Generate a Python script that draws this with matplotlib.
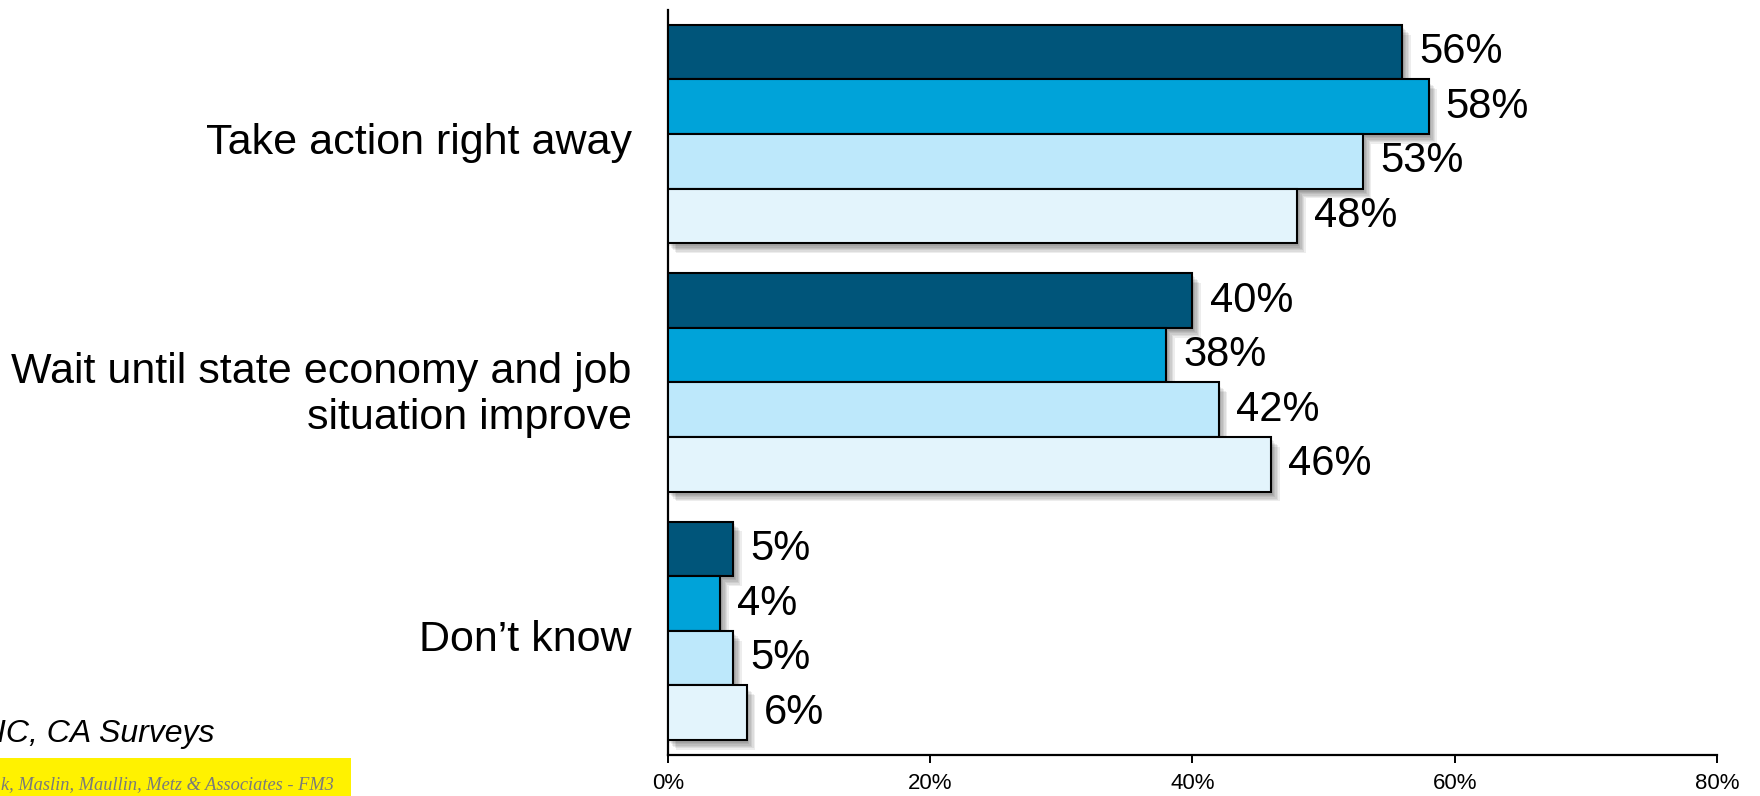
import matplotlib
matplotlib.use("Agg")
from matplotlib import pyplot as plt
import matplotlib.patheffects as pe
import matplotlib.transforms as mtrans
import numpy as np

plt.rcParams['font.family'] = ['Liberation Sans', 'DejaVu Sans']

# Data
categories = ["Take action right away",
              "Wait until state economy and job\nsituation improve",
              "Don\u2019t know"]
wave1 = [56, 40, 5]
wave2 = [58, 38, 4]
wave3 = [53, 42, 5]
wave4 = [48, 46, 6]
series = [wave1, wave2, wave3, wave4]
colors = ["#00557A", "#00A3D9", "#BDE8FB", "#E3F4FC"]
xticks = [0, 20, 40, 60, 80]

fig = plt.figure(figsize=(17.6, 7.96), dpi=100)
ax = fig.add_axes([0.3795, 0.0515, 0.5961, 0.936])

bar_h = 0.22
y = np.arange(len(categories))
# soft drop shadow, built from a few faint offset copies
shadow = [pe.SimplePatchShadow(offset=(o, -o - 1), shadow_rgbFace='k', alpha=0.07)
          for o in (1, 2, 3, 4, 5, 6)] + [pe.Normal()]
for i, (vals, col) in enumerate(zip(series, colors)):
    pos = y + (i - 1.5) * bar_h
    bars = ax.barh(pos, vals, height=bar_h, color=col, edgecolor='black', linewidth=1.5, zorder=3)
    for b in bars:
        b.set_path_effects(shadow)
    for p, v in zip(pos, vals):
        ax.text(v + 1.3, p, f"{v}%", va='center', ha='left', fontsize=30, zorder=4)

ax.set_xlim(0, 80)
ax.set_ylim(2.5, -0.5)
ax.set_xticks(xticks)
ax.set_xticklabels([f"{t}%" for t in xticks], fontsize=16)
ax.tick_params(axis='x', direction='out', length=6, width=1.4, pad=7)
ax.set_yticks(y)
ax.set_yticklabels(categories, fontsize=31)
ax.tick_params(axis='y', length=0, pad=26)
shift = mtrans.ScaledTranslation(0, -3.5 / 72, fig.dpi_scale_trans)
for lbl in ax.get_yticklabels():
    lbl.set_transform(lbl.get_transform() + shift)
for s in ['top', 'right']:
    ax.spines[s].set_visible(False)
for s in ['left', 'bottom']:
    ax.spines[s].set_linewidth(1.6)
    ax.spines[s].set_color('black')

# Source notes (cropped at the left edge in the original)
fig.text(214 / 1760, 1 - 734 / 796, "IC, CA Surveys", ha='right', va='center',
         fontsize=23, style='italic')
fig.patches.append(plt.Rectangle((0, 0), 351 / 1760, 38 / 796, transform=fig.transFigure,
                                 facecolor='#FFF200', edgecolor='none'))
fig.text(1 / 1760, 1 - 789 / 796, "k, Maslin, Maullin, Metz & Associates - FM3",
         ha='left', va='baseline', fontsize=13.2, style='italic', color='#7a7a7a',
         family=['Liberation Serif', 'DejaVu Serif'])

fig.savefig("out.png", dpi=100)
